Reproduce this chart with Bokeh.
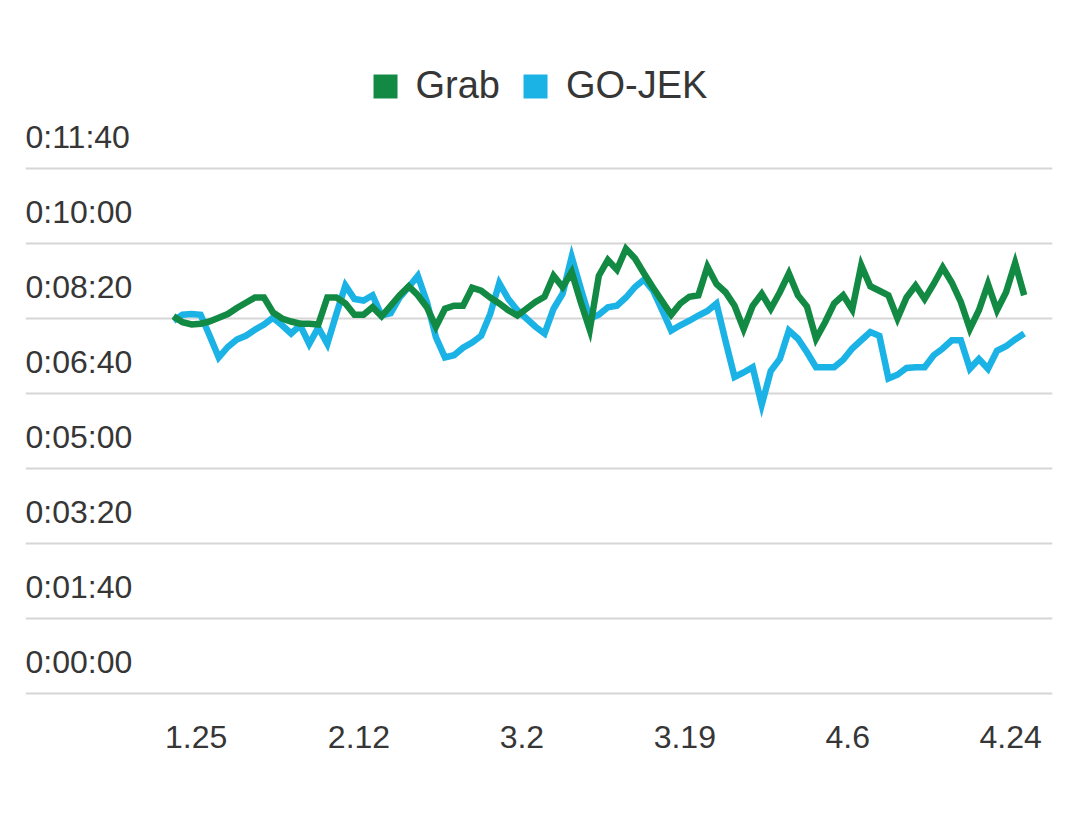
from bokeh.plotting import figure
from bokeh.models import Range1d, FixedTicker, Legend, LegendItem
from bokeh.core.properties import value
from bokeh.embed import file_html
from bokeh.resources import INLINE

# Average wait (seconds) per day, Grab vs GO-JEK
grab = [503, 495, 492, 493, 496, 501, 506, 514, 521, 528,
        528, 508, 500, 496, 493, 493, 492, 528, 528, 520,
        505, 505, 515, 503, 517, 531, 543, 531, 515, 489,
        513, 517, 517, 541, 537, 528, 520, 511, 504, 513,
        522, 529, 557, 542, 562, 522, 485, 557, 578, 565,
        593, 580, 560, 541, 523, 505, 520, 529, 531, 569,
        546, 535, 517, 486, 517, 533, 513, 535, 560, 531,
        516, 473, 495, 520, 531, 512, 571, 543, 537, 531,
        500, 528, 544, 526, 546, 568, 548, 522, 486, 511,
        546, 511, 535, 574, 531]
gojek = [497, 505, 506, 505, 477, 448, 462, 472, 477, 485,
         492, 501, 491, 480, 491, 466, 488, 466, 506, 544,
         526, 524, 531, 504, 507, 528, 542, 557, 522, 475,
         448, 451, 461, 468, 477, 506, 547, 526, 511, 500,
         489, 480, 513, 533, 582, 540, 500, 505, 515, 517,
         528, 542, 552, 537, 511, 484, 491, 497, 504, 510,
         520, 470, 422, 428, 435, 385, 430, 446, 484, 473,
         455, 435, 435, 435, 445, 460, 471, 482, 477, 420,
         425, 434, 435, 435, 451, 460, 471, 471, 433, 446,
         433, 457, 463, 472, 480]
idx = list(range(len(grab)))

y_ticks = [0, 100, 200, 300, 400, 500, 600, 700]
y_labels = ["0:00:00", "0:01:40", "0:03:20", "0:05:00",
            "0:06:40", "0:08:20", "0:10:00", "0:11:40"]
x_tick_pos = [2.5, 20.5, 38.5, 56.5, 74.5, 92.5]
x_tick_labels = ["1.25", "2.12", "3.2", "3.19", "4.6", "4.24"]
series_names = ["Grab", "GO-JEK"]

GREEN = "#138A44"
BLUE = "#1BB3E6"
FONT = "Liberation Sans"
TXT = "#363636"
NAN = float("nan")

x_start, x_end = -16.35, 97.13
y_start, y_end = -9.33, 838.67

p = figure(width=1072, height=810, output_backend="svg", toolbar_location=None,
           x_range=Range1d(x_start, x_end), y_range=Range1d(y_start, y_end),
           min_border_left=25, min_border_right=20,
           min_border_top=64, min_border_bottom=110)
p.outline_line_color = None
p.background_fill_color = "white"
p.border_fill_color = "white"

p.xgrid.visible = False
p.yaxis.visible = False
p.yaxis.ticker = FixedTicker(ticks=y_ticks)
p.ygrid.ticker = FixedTicker(ticks=y_ticks)
p.ygrid.grid_line_color = "#d6d6d6"
p.ygrid.grid_line_width = 2

xa = p.xaxis[0]
xa.ticker = FixedTicker(ticks=x_tick_pos)
xa.major_label_overrides = dict(zip(x_tick_pos, x_tick_labels))
xa.axis_line_color = None
xa.major_tick_line_color = None
xa.minor_tick_line_color = None
xa.major_tick_in = 0
xa.major_tick_out = 0
xa.major_label_standoff = 25
xa.major_label_text_font = FONT
xa.major_label_text_font_size = "32px"
xa.major_label_text_color = TXT

# y labels sit above their gridlines
p.text(x=[x_start] * len(y_ticks), y=y_ticks, text=y_labels,
       text_font=value(FONT), text_font_size="32px", text_color=TXT,
       text_align="left", text_baseline="alphabetic", y_offset=-32)

p.line(idx, gojek, line_color=BLUE, line_width=6.5, line_join="miter")
p.line(idx, grab, line_color=GREEN, line_width=6.5, line_join="miter")

# legend swatches (no drawn data, only used by the legend)
sq_g = p.quad(left=[NAN], right=[NAN], top=[NAN], bottom=[NAN],
              fill_color=GREEN, line_color=None)
sq_b = p.quad(left=[NAN], right=[NAN], top=[NAN], bottom=[NAN],
              fill_color=BLUE, line_color=None)
legend = Legend(items=[LegendItem(label=series_names[0], renderers=[sq_g]),
                       LegendItem(label=series_names[1], renderers=[sq_b])],
                orientation="horizontal", location="top_center",
                glyph_width=30, glyph_height=30, label_standoff=16, spacing=20,
                label_text_font=FONT, label_text_font_size="38px",
                label_text_color=TXT, border_line_color=None,
                background_fill_alpha=0, margin=0, padding=0)
p.add_layout(legend)

open("out.html", "w").write(file_html(p, INLINE))
